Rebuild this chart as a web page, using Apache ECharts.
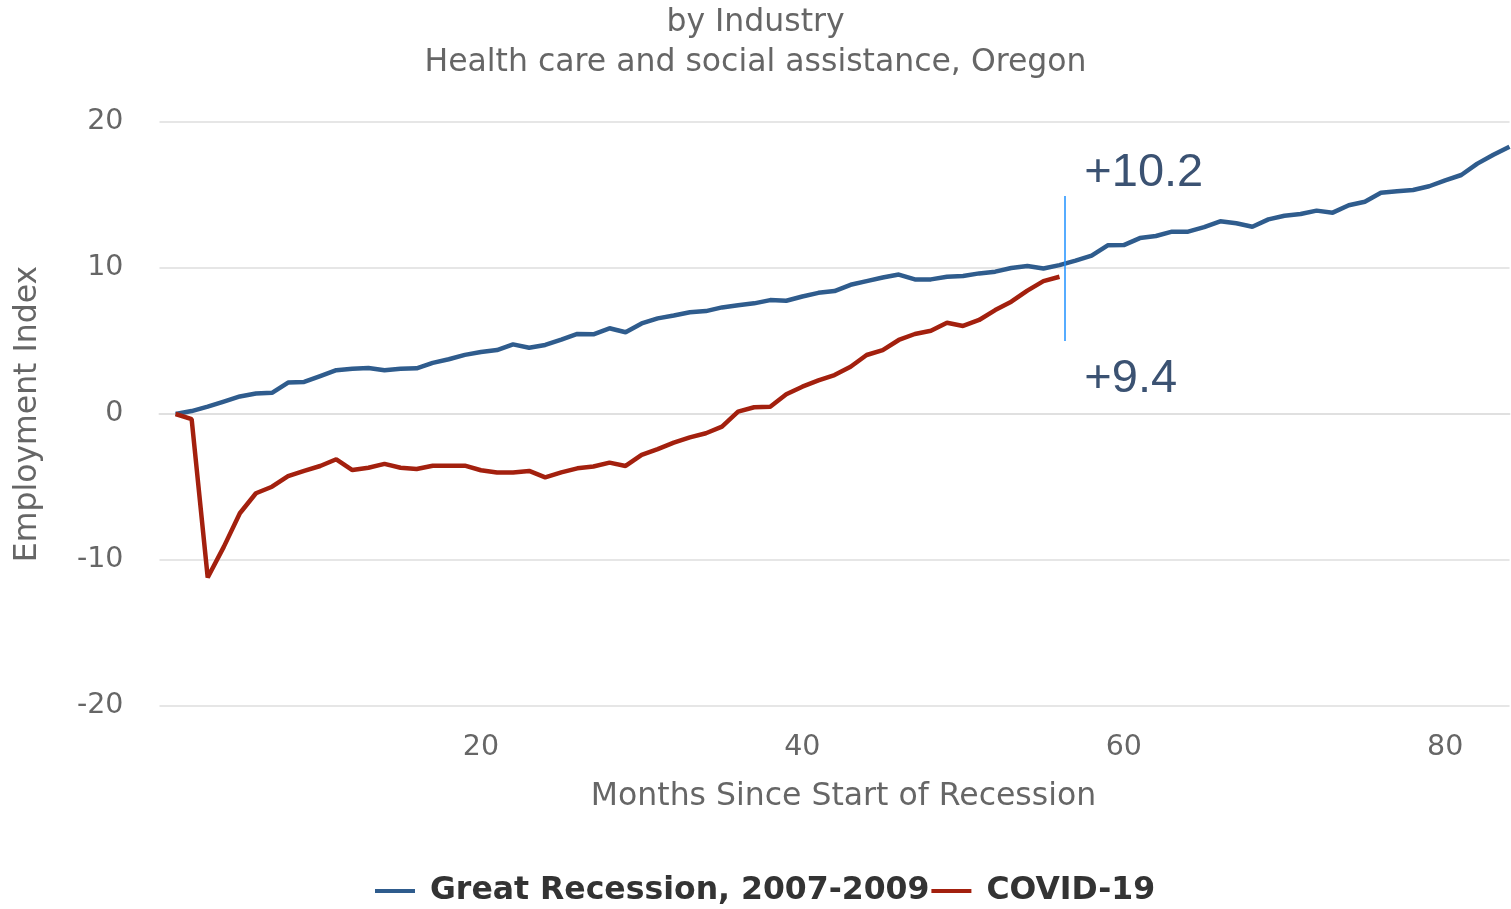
<!DOCTYPE html>
<html>
<head>
<meta charset="utf-8">
<script src="https://cdn.jsdelivr.net/npm/echarts@6/dist/echarts.min.js"></script>
<style>
html,body{margin:0;padding:0;background:#fff;}
#chart{width:1511px;height:909px;}
</style>
</head>
<body>
<div id="chart"></div>
<script>
var months = [];
for (var i = 1; i <= 84; i++) months.push(i);

var greatRecession = [
  0.0, 0.2, 0.5, 0.85, 1.2, 1.4, 1.45, 2.15, 2.2, 2.6,
  3.0, 3.1, 3.15, 3.0, 3.1, 3.13, 3.5, 3.75, 4.05, 4.25,
  4.38, 4.77, 4.54, 4.73, 5.1, 5.48, 5.46, 5.87, 5.6, 6.2,
  6.55, 6.75, 6.97, 7.05, 7.3, 7.45, 7.58, 7.8, 7.76, 8.05,
  8.3, 8.42, 8.85, 9.1, 9.35, 9.55, 9.22, 9.22, 9.4, 9.45,
  9.63, 9.75, 10.0, 10.14, 9.97, 10.2, 10.5, 10.85, 11.55, 11.57,
  12.05, 12.19, 12.49, 12.49, 12.8, 13.2, 13.06, 12.83, 13.33, 13.58,
  13.7, 13.93, 13.79, 14.3, 14.54, 15.15, 15.25, 15.34, 15.6, 16.0,
  16.37, 17.15, 17.75, 18.3
];

var covid = [
  0.0, -0.35, -11.2, -9.1, -6.8, -5.43, -4.98, -4.25, -3.9, -3.56,
  -3.1, -3.84, -3.68, -3.42, -3.68, -3.77, -3.54, -3.54, -3.54, -3.85,
  -4.0, -4.0, -3.9, -4.34, -4.0, -3.72, -3.6, -3.33, -3.56, -2.8,
  -2.4, -1.96, -1.6, -1.32, -0.87, 0.16, 0.46, 0.5, 1.35, 1.87,
  2.3, 2.67, 3.24, 4.04, 4.38, 5.07, 5.48, 5.7, 6.25, 6.03,
  6.44, 7.12, 7.69, 8.45, 9.1, 9.4
];

var seriesNames = ['Great Recession, 2007-2009', 'COVID-19'];
var annotationMonth = 56.3;
var annotationTexts = ['+10.2', '+9.4'];
var annotationY = [16.5, 2.4];
var annotationLineY = [14.93, 5.0];

function pairs(vals) {
  return vals.map(function (v, i) { return [months[i], v]; });
}

var chart = echarts.init(document.getElementById('chart'));
var FONT = 'DejaVu Sans';
chart.setOption({
  animation: false,
  backgroundColor: '#ffffff',
  title: [
    { text: 'by Industry', left: 'center', top: 2,
      textStyle: { fontFamily: FONT, fontSize: 31.5, fontWeight: 'normal', color: '#666666' } },
    { text: 'Health care and social assistance, Oregon', left: 'center', top: 42,
      textStyle: { fontFamily: FONT, fontSize: 31.5, fontWeight: 'normal', color: '#666666' } }
  ],
  grid: { left: 159.5, right: 1.5, top: 122, bottom: 203, containLabel: false },
  legend: {
    bottom: -3,
    left: 370,
    icon: 'rect',
    itemWidth: 40,
    itemHeight: 4,
    itemGap: 2,
    data: seriesNames,
    textStyle: { fontFamily: FONT, fontSize: 31.5, fontWeight: 'bold', color: '#333333', padding: [0, 0, 0, 10] }
  },
  xAxis: {
    type: 'value',
    min: 0,
    max: 84,
    interval: 20,
    name: 'Months Since Start of Recession',
    nameLocation: 'middle',
    nameGap: 75,
    nameTextStyle: { fontFamily: FONT, fontSize: 31.5, color: '#666666', padding: [0, 0, 0, 18] },
    axisLine: { show: true, lineStyle: { color: '#e0e0e0', width: 2 } },
    axisTick: { show: false },
    splitLine: { show: false },
    axisLabel: { showMinLabel: false, showMaxLabel: false, margin: 27,
      fontFamily: FONT, fontSize: 28.5, color: '#666666' }
  },
  yAxis: {
    type: 'value',
    min: -20,
    max: 20,
    interval: 10,
    name: 'Employment Index',
    nameLocation: 'middle',
    nameGap: 116,
    nameTextStyle: { fontFamily: FONT, fontSize: 31.5, color: '#666666' },
    axisLine: { show: false },
    axisTick: { show: false },
    splitLine: { lineStyle: { color: '#e6e6e6', width: 2 } },
    axisLabel: { margin: 36, padding: [8, 0, 0, 0], fontFamily: FONT, fontSize: 28.5, color: '#666666' }
  },
  series: [
    {
      name: seriesNames[0],
      type: 'line',
      data: pairs(greatRecession),
      showSymbol: false,
      symbol: 'none',
      color: '#2f5c8d',
      lineStyle: { width: 4.5, color: '#2f5c8d' },
      markLine: {
        silent: true,
        symbol: 'none',
        label: { show: false },
        lineStyle: { color: '#1e90ff', width: 1.5, type: 'solid' },
        data: [[{ coord: [annotationMonth, annotationLineY[0]] }, { coord: [annotationMonth, annotationLineY[1]] }]]
      },
      markPoint: {
        silent: true,
        symbol: 'circle',
        symbolSize: 0,
        label: {
          show: true, position: 'right', distance: 20,
          fontFamily: 'Liberation Sans', fontSize: 47, color: '#3b5272',
          formatter: function (p) { return p.name; }
        },
        data: [
          { name: annotationTexts[0], coord: [annotationMonth, annotationY[0]] },
          { name: annotationTexts[1], coord: [annotationMonth, annotationY[1]] }
        ]
      }
    },
    {
      name: seriesNames[1],
      type: 'line',
      data: pairs(covid),
      showSymbol: false,
      symbol: 'none',
      color: '#a3200e',
      lineStyle: { width: 4.5, color: '#a3200e' }
    }
  ]
});
</script>
</body>
</html>
